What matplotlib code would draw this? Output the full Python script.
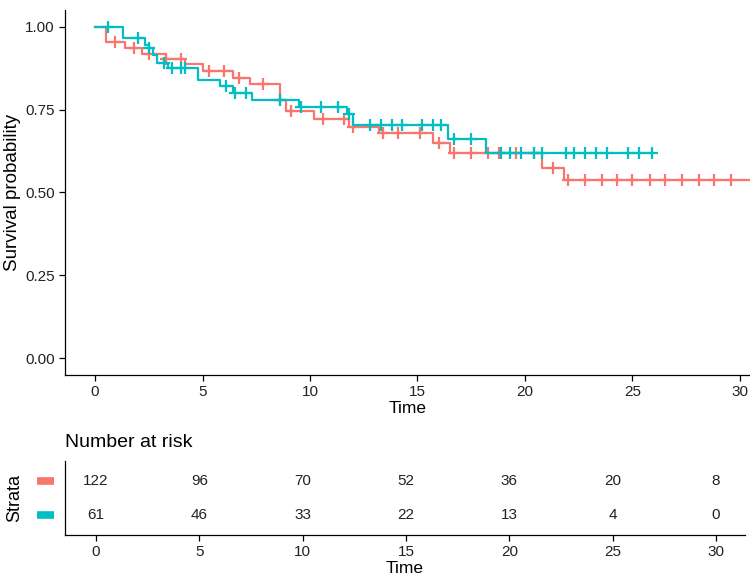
import numpy as np
import matplotlib
matplotlib.use("Agg")
import matplotlib.pyplot as plt
from matplotlib.transforms import blended_transform_factory

plt.rcParams['font.family'] = ['Liberation Sans', 'DejaVu Sans']

# ---- data ----
red_times = [0, 0.5, 1.4, 2.2, 3.3, 4.2, 5.0, 6.4, 7.2, 8.6, 8.9, 10.2, 11.8, 13.2, 15.7, 16.5, 20.8, 21.8, 31.5]
red_surv = [1.0, 0.953, 0.934, 0.918, 0.903, 0.888, 0.865, 0.846, 0.827, 0.78, 0.745, 0.722, 0.698, 0.678, 0.65, 0.62, 0.574, 0.538, 0.538]
red_censor = [0.93, 1.8, 2.5, 3.3, 4.0, 5.3, 6.0, 6.7, 7.8, 8.6, 9.1, 10.6, 11.6, 12.0, 13.4, 14.1, 15.1,
              16.0, 16.7, 17.5, 18.3, 18.8, 19.6, 20.4, 21.3, 22.0, 22.8, 23.6, 24.3, 25.0, 25.8, 26.5,
              27.3, 28.1, 28.8, 29.6]

teal_times = [0, 1.3, 2.3, 2.5, 2.7, 2.9, 3.4, 4.8, 5.8, 6.4, 7.3, 9.5, 11.7, 12.0, 16.4, 18.2, 25.9]
teal_surv = [1.0, 0.965, 0.946, 0.934, 0.913, 0.89, 0.876, 0.84, 0.82, 0.80, 0.78, 0.757, 0.737, 0.704, 0.662, 0.62, 0.62]
teal_censor = [0.6, 2.0, 2.5, 3.2, 3.6, 4.0, 4.2, 6.1, 6.5, 7.0, 8.6, 9.6, 10.5, 11.3, 11.8, 12.8, 13.3,
               13.8, 14.3, 15.2, 15.7, 16.1, 16.7, 17.5, 18.9, 19.3, 19.8, 20.4, 20.8, 21.9, 22.3, 22.8,
               23.3, 23.8, 24.8, 25.3, 25.9]

risk_times = [0, 5, 10, 15, 20, 25, 30]
red_at_risk = [122, 96, 70, 52, 36, 20, 8]
teal_at_risk = [61, 46, 33, 22, 13, 4, 0]

RED = '#F8766D'
TEAL = '#00BFC4'

def surv_at(times, surv, t):
    idx = np.searchsorted(times, t, side='right') - 1
    return np.asarray(surv)[idx]

fig = plt.figure(figsize=(7.5, 5.79), dpi=100)

# ---- survival plot ----
ax = fig.add_axes([65/750, 1-375/579, 685/750, 365/579])
for times, surv, cens, col in [(red_times, red_surv, red_censor, RED),
                               (teal_times, teal_surv, teal_censor, TEAL)]:
    ax.step(times, surv, where='post', color=col, lw=1.6)
    cy = surv_at(np.array(times), surv, np.array(cens))
    ax.plot(cens, cy, ls='none', marker='+', ms=8, mew=1.6, color=col)

ax.set_xlim(-1.4, 30.47)
ax.set_ylim(-0.05, 1.05)
ax.set_yticks([0, 0.25, 0.5, 0.75, 1.0])
ax.set_yticklabels(['0.00', '0.25', '0.50', '0.75', '1.00'])
ax.set_xticks([0, 5, 10, 15, 20, 25, 30])
for s in ['top', 'right']:
    ax.spines[s].set_visible(False)
for s in ['left', 'bottom']:
    ax.spines[s].set_color('black')
    ax.spines[s].set_linewidth(0.9)
ax.tick_params(axis='both', labelsize=11, colors='black', length=4, width=0.9, labelcolor='#222222')
ax.set_xlabel('Time', fontsize=12.5, labelpad=1)
ax.set_ylabel('Survival probability', fontsize=13.5, labelpad=3)

# ---- risk table ----
rax = fig.add_axes([65/750, 1-535/579, 680/750, 74/579])
for yv, vals in [(2, red_at_risk), (1, teal_at_risk)]:
    for t, v in zip(risk_times, vals):
        rax.text(t, yv, str(v), ha='center', va='center', fontsize=11, color='#222222')
rax.set_xlim(-1.5, 31.4)
rax.set_ylim(0.4, 2.6)
rax.set_xticks([0, 5, 10, 15, 20, 25, 30])
rax.set_yticks([])
for s in ['top', 'right']:
    rax.spines[s].set_visible(False)
for s in ['left', 'bottom']:
    rax.spines[s].set_color('black')
    rax.spines[s].set_linewidth(0.9)
rax.tick_params(axis='x', labelsize=11, colors='black', length=4, width=0.9, labelcolor='#222222')
rax.set_xlabel('Time', fontsize=12.5, labelpad=1)
rax.set_ylabel('Strata', fontsize=13, labelpad=30)
rax.set_title('Number at risk', fontsize=14, loc='left', x=0.0, pad=10)

tr = blended_transform_factory(rax.transAxes, rax.transData)
for yv, col in [(2, RED), (1, TEAL)]:
    rax.plot([-0.041, -0.016], [yv, yv], color=col, lw=5.5, transform=tr, clip_on=False,
             solid_capstyle='butt')

fig.savefig('out.png', dpi=100)
